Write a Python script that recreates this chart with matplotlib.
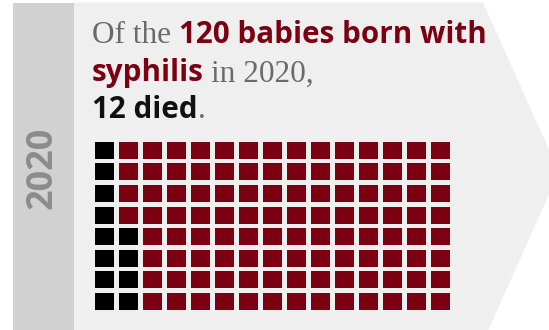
import numpy as np
import matplotlib.pyplot as plt
from matplotlib.patches import Polygon, Rectangle

# Data
year = "2020"
total_babies = 120
deaths = 12
n_rows = 8
n_cols = 15

red = "#7a0012"
dead = "#000000"
panel = "#efefef"
band = "#d1d1d1"
grey_text = "#6a6a6a"

sans = ["Open Sans", "DejaVu Sans"]
serif = ["Liberation Serif", "DejaVu Serif"]

fig = plt.figure(figsize=(5.49, 3.3), dpi=100)
fig.patch.set_facecolor("white")

# Background in pixel units
bg = fig.add_axes([0, 0, 1, 1])
bg.set_xlim(0, 549)
bg.set_ylim(330, 0)
bg.axis("off")

bg.add_patch(Rectangle((13, 2.5), 61, 340, color=band, lw=0))
bg.add_patch(Polygon([(74, 2.5), (483, 2.5), (559, 172), (483, 342), (74, 342)],
                     closed=True, color=panel, lw=0))
bg.text(43, 168, year, rotation=90, ha="center", va="center", fontsize=26,
        fontweight="bold", color="#8c8c8c", family=sans)

# Headline, written piece by piece so colours and fonts can change mid-line
bold_red = dict(family=sans, fontweight="bold", color=red, fontsize=21.3)
bold_black = dict(family=sans, fontweight="bold", color="#111111", fontsize=21.3)
plain = dict(family=serif, color=grey_text, fontsize=22.5)

lines = [
    (43, [("Of the", plain, 8), (f"{total_babies} babies born with", bold_red, 0)]),
    (81.5, [("syphilis", bold_red, 7), (f"in {year},", plain, 0)]),
    (118.5, [(f"{deaths} died", bold_black, 1), (".", plain, 0)]),
]

renderer = fig.canvas.get_renderer()
for y, pieces in lines:
    x = 92
    for text, style, gap in pieces:
        t = bg.text(x, y, text, ha="left", va="baseline", **style)
        x += t.get_window_extent(renderer).width + gap

# Waffle: one cell per baby, filled column by column from bottom-left
ax = fig.add_axes([95 / 549, (330 - 314.5) / 330, 360 / 549, 172.8 / 330])
idx = np.arange(total_babies)
cols = idx // n_rows
rows = idx % n_rows
colors = np.where(idx < deaths, dead, red)
ax.bar(cols, 0.79, bottom=rows + 0.21, width=0.81, align="edge",
       color=colors, linewidth=0)
ax.set_xlim(0, n_cols)
ax.set_ylim(0, n_rows)
ax.axis("off")

fig.savefig("out.png", dpi=100)
